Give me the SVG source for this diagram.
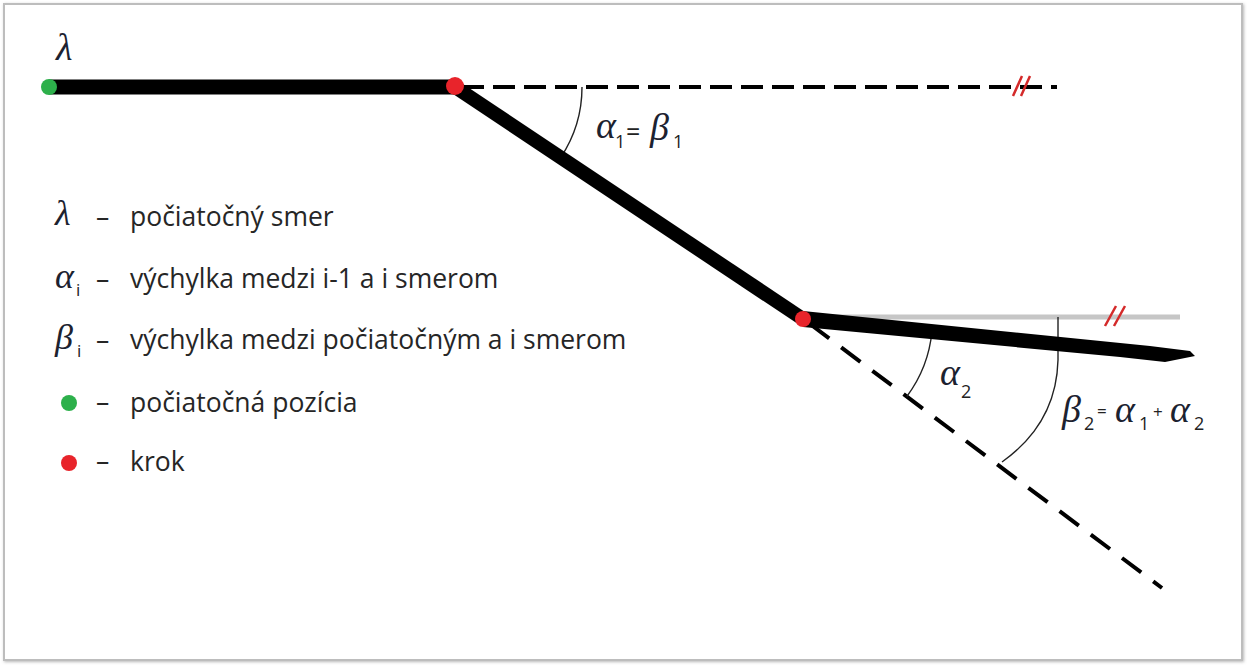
<svg xmlns="http://www.w3.org/2000/svg" width="1247" height="665" viewBox="0 0 1247 665">
<defs>
<filter id="sh" x="-5%" y="-5%" width="110%" height="110%">
<feDropShadow dx="1" dy="1" stdDeviation="1.5" flood-color="#888" flood-opacity="0.6"/>
</filter>
<style>
.greek{font-family:"Liberation Serif","DejaVu Serif",serif;font-style:italic;fill:#1c2230;}
.sub{font-family:"Open Sans","Liberation Sans",sans-serif;fill:#222;}
.leg{font-family:"Open Sans","Liberation Sans",sans-serif;font-size:26.5px;fill:#262626;}
.thick{stroke:#000;fill:none;}
.dash{stroke:#000;fill:none;stroke-width:4;}
.arc{stroke:#222;fill:none;stroke-width:1.4;}
.tick{stroke:#d42a2a;stroke-width:2.5;fill:none;}
.green{fill:#2db04b;}
.red{fill:#e8242b;}
</style>
</defs>
<rect x="0" y="0" width="1247" height="665" fill="#fff"/>
<rect x="4" y="4" width="1238" height="656" fill="#fff" stroke="#bdbdbd" stroke-width="2" filter="url(#sh)"/>

<g id="connectors">
  <line class="dash" x1="462" y1="87" x2="1057" y2="87" stroke-dasharray="22 9"/>
  <line x1="808" y1="317" x2="1180" y2="317" stroke="#c6c6c6" stroke-width="5"/>
  <line class="dash" x1="810" y1="324" x2="1162" y2="588" stroke-width="6" stroke-dasharray="24 15"/>
  <path class="arc" d="M582,87 A127,127 0 0 1 560.7,157.5"/>
  <path class="arc" d="M932,331 A130,130 0 0 1 906.8,396.5"/>
  <path class="arc" d="M1058,317 L1058,360 C1057,400 1040,435 1002,462"/>
  <line class="thick" x1="49" y1="87" x2="455" y2="87" stroke-width="15"/>
  <line class="thick" x1="455" y1="87" x2="803" y2="319" stroke-width="14"/>
  <polygon points="803,311 1150,346 1190,351 1195,356 1165,362 1120,357 803,327" fill="#000"/>
  <path class="tick" d="M1013,96 L1022,76 M1021,96 L1030,76"/>
  <path class="tick" d="M1105,326 L1116,306 M1114,326 L1125,306"/>
</g>

<g id="start"><circle class="green" cx="49" cy="87" r="8"/></g>
<g id="step1"><circle class="red" cx="455" cy="86" r="9"/></g>
<g id="step2"><circle class="red" cx="803" cy="319" r="8"/></g>

<g id="label-lambda"><text class="greek" x="56" y="60" font-size="38">λ</text></g>

<g id="label-a1b1">
  <text class="greek" x="596" y="138" font-size="38">α</text>
  <text class="sub" x="615" y="148" font-size="18">1</text>
  <text class="sub" x="626" y="141" font-size="25">=</text>
  <text class="greek" x="650" y="140" font-size="38">β</text>
  <text class="sub" x="673" y="148" font-size="18">1</text>
</g>

<g id="label-a2">
  <text class="greek" x="940" y="385" font-size="38">α</text>
  <text class="sub" x="961" y="398" font-size="18">2</text>
</g>

<g id="label-b2">
  <text class="greek" x="1062" y="422" font-size="38">β</text>
  <text class="sub" x="1084" y="430" font-size="18">2</text>
  <text class="sub" x="1097" y="417" font-size="17">=</text>
  <text class="greek" x="1115" y="422" font-size="38">α</text>
  <text class="sub" x="1139" y="430" font-size="18">1</text>
  <text class="sub" x="1153" y="418" font-size="17">+</text>
  <text class="greek" x="1170" y="422" font-size="38">α</text>
  <text class="sub" x="1194" y="430" font-size="18">2</text>
</g>

<g id="legend">
  <text class="greek" x="55" y="225" font-size="36">λ</text>
  <text class="leg" x="96" y="226">–</text>
  <text class="leg" x="130" y="226">počiatočný smer</text>

  <text class="greek" x="55" y="288" font-size="36">α</text>
  <text class="sub" x="76" y="296" font-size="17">i</text>
  <text class="leg" x="96" y="288">–</text>
  <text class="leg" x="130" y="288">výchylka medzi i-1 a i smerom</text>

  <text class="greek" x="55" y="349" font-size="36">β</text>
  <text class="sub" x="77" y="357" font-size="17">i</text>
  <text class="leg" x="96" y="349">–</text>
  <text class="leg" x="130" y="349">výchylka medzi počiatočným a i smerom</text>

  <circle class="green" cx="69" cy="403" r="8"/>
  <text class="leg" x="96" y="411">–</text>
  <text class="leg" x="130" y="412">počiatočná pozícia</text>

  <circle class="red" cx="69" cy="463" r="8"/>
  <text class="leg" x="96" y="470">–</text>
  <text class="leg" x="130" y="471">krok</text>
</g>
</svg>
